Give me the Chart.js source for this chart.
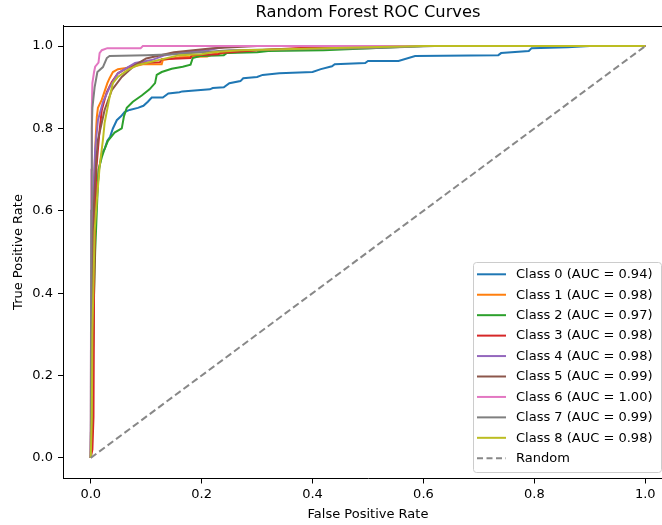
<!DOCTYPE html>
<html>
<head>
<meta charset="utf-8">
<script src="https://cdn.jsdelivr.net/npm/chart.js@4/dist/chart.umd.min.js"></script>
<style>
  html, body { margin: 0; padding: 0; background: #fff; overflow: hidden; }
  #wrap { width: 662px; height: 525px; overflow: hidden; position: relative; }
  canvas { display: block; }
</style>
</head>
<body>
<div id="wrap"><canvas id="c" width="673" height="525"></canvas></div>
<script>
// ---- Data (FPR, TPR) pairs ----
const class0 = [[0,0],[0.002,0.3],[0.005,0.5],[0.01,0.62],[0.015,0.7],[0.02,0.74],[0.025,0.75],[0.03,0.77],[0.035,0.78],[0.04,0.8],[0.047,0.82],[0.055,0.83],[0.061,0.84],[0.07,0.845],[0.085,0.85],[0.095,0.855],[0.103,0.865],[0.11,0.875],[0.13,0.875],[0.14,0.885],[0.16,0.888],[0.165,0.89],[0.215,0.895],[0.22,0.898],[0.24,0.9],[0.25,0.91],[0.27,0.915],[0.275,0.922],[0.3,0.925],[0.31,0.93],[0.34,0.934],[0.4,0.937],[0.415,0.944],[0.435,0.951],[0.44,0.956],[0.495,0.959],[0.5,0.964],[0.555,0.964],[0.585,0.976],[0.735,0.978],[0.74,0.983],[0.79,0.988],[0.795,0.995],[0.86,0.997],[0.9,1.0],[1,1]];
const class1 = [[0,0],[0.002,0.3],[0.004,0.6],[0.007,0.7],[0.009,0.78],[0.011,0.828],[0.013,0.85],[0.02,0.87],[0.025,0.89],[0.03,0.91],[0.034,0.922],[0.04,0.937],[0.049,0.944],[0.07,0.948],[0.094,0.956],[0.128,0.956],[0.13,0.966],[0.16,0.973],[0.21,0.975],[0.22,0.98],[0.3,0.99],[0.5,1],[1,1]];
const class2 = [[0,0],[0.002,0.05],[0.004,0.25],[0.006,0.4],[0.008,0.5],[0.011,0.6],[0.014,0.7],[0.02,0.73],[0.025,0.75],[0.031,0.77],[0.043,0.79],[0.056,0.8],[0.06,0.83],[0.065,0.85],[0.076,0.865],[0.092,0.88],[0.106,0.895],[0.116,0.91],[0.119,0.93],[0.128,0.937],[0.146,0.945],[0.166,0.95],[0.18,0.955],[0.184,0.971],[0.197,0.976],[0.24,0.978],[0.245,0.983],[0.3,0.985],[0.32,0.988],[0.42,0.99],[0.6,1],[1,1]];
const class3 = [[0,0],[0.003,0.02],[0.005,0.1],[0.006,0.4],[0.008,0.6],[0.01,0.7],[0.013,0.75],[0.016,0.796],[0.02,0.845],[0.025,0.87],[0.029,0.888],[0.038,0.913],[0.049,0.934],[0.07,0.95],[0.094,0.959],[0.125,0.961],[0.128,0.968],[0.18,0.971],[0.182,0.978],[0.23,0.98],[0.233,0.983],[0.3,0.99],[0.45,1],[1,1]];
const class4 = [[0,0],[0.001,0.2],[0.003,0.5],[0.005,0.65],[0.008,0.75],[0.013,0.82],[0.022,0.864],[0.034,0.9],[0.049,0.934],[0.08,0.959],[0.11,0.966],[0.134,0.978],[0.157,0.983],[0.21,0.99],[0.25,1],[1,1]];
const class5 = [[0,0],[0.002,0.3],[0.004,0.55],[0.007,0.65],[0.01,0.72],[0.013,0.772],[0.025,0.845],[0.038,0.893],[0.056,0.925],[0.08,0.954],[0.1,0.97],[0.15,0.985],[0.22,0.995],[0.3,1],[1,1]];
const class6 = [[0,0],[0.001,0.7],[0.002,0.85],[0.003,0.91],[0.006,0.937],[0.008,0.95],[0.014,0.96],[0.016,0.983],[0.02,0.99],[0.03,0.995],[0.09,0.995],[0.094,1.0],[1,1]];
const class7 = [[0,0],[0.001,0.6],[0.002,0.8],[0.003,0.85],[0.007,0.9],[0.012,0.937],[0.022,0.949],[0.029,0.971],[0.034,0.976],[0.1,0.978],[0.15,0.98],[0.2,0.985],[0.25,0.99],[0.5,0.995],[0.62,1],[1,1]];
const class8 = [[0,0],[0.002,0.1],[0.003,0.3],[0.007,0.55],[0.011,0.626],[0.016,0.706],[0.022,0.772],[0.025,0.813],[0.034,0.876],[0.04,0.91],[0.049,0.925],[0.067,0.942],[0.085,0.954],[0.16,0.978],[0.2,0.98],[0.22,0.985],[0.27,0.99],[0.5,0.997],[0.6,1],[1,1]];
const randomLine = [[0,0],[1,1]];

const classNames = ['Class 0','Class 1','Class 2','Class 3','Class 4','Class 5','Class 6','Class 7','Class 8'];
const aucValues = [0.94, 0.98, 0.97, 0.98, 0.98, 0.99, 1.00, 0.99, 0.98];
const xTickValues = [0, 0.2, 0.4, 0.6, 0.8, 1.0];
const yTickValues = [0, 0.2, 0.4, 0.6, 0.8, 1.0];

// ---- Styles ----
const palette = ['#1f77b4','#ff7f0e','#2ca02c','#d62728','#9467bd','#8c564b','#e377c2','#7f7f7f','#bcbd22'];
const FONT = 'DejaVu Sans';
const curves = [class0, class1, class2, class3, class4, class5, class6, class7, class8];

const datasets = curves.map((pts, i) => ({
  label: `${classNames[i]} (AUC = ${aucValues[i].toFixed(2)})`,
  data: pts.map(p => ({x: p[0], y: p[1]})),
  borderColor: palette[i],
  backgroundColor: palette[i],
  borderWidth: 2,
  pointRadius: 0,
  tension: 0,
  fill: false,
  order: curves.length + 1 - i
}));
datasets.push({
  label: 'Random',
  data: randomLine.map(p => ({x: p[0], y: p[1]})),
  borderColor: '#888888',
  backgroundColor: '#888888',
  borderWidth: 2,
  borderDash: [7, 3.5],
  pointRadius: 0,
  fill: false,
  order: 0
});

const framePlugin = {
  id: 'frameAndLegend',
  afterDraw(chart) {
    const {ctx, chartArea: a} = chart;
    ctx.save();
    // top and right spines
    ctx.strokeStyle = '#000';
    ctx.lineWidth = 1;
    ctx.beginPath();
    ctx.moveTo(a.left, Math.round(a.top) + 0.5);
    ctx.lineTo(a.right, Math.round(a.top) + 0.5);
    ctx.lineTo(a.right, a.bottom);
    ctx.stroke();

    // legend
    const bx = 473.5, by = 262.5, bw = 188, bh = 210;
    ctx.beginPath();
    ctx.roundRect(bx, by, bw, bh, 3);
    ctx.fillStyle = 'rgba(255,255,255,0.8)';
    ctx.fill();
    ctx.strokeStyle = '#cccccc';
    ctx.lineWidth = 1;
    ctx.stroke();

    ctx.font = `13px "${FONT}"`;
    ctx.textBaseline = 'middle';
    ctx.textAlign = 'left';
    chart.data.datasets.forEach((ds, i) => {
      const y = 274.3 + i * 20.44;
      ctx.strokeStyle = ds.borderColor;
      ctx.lineWidth = 2;
      ctx.setLineDash(ds.borderDash ? [6, 3.5] : []);
      ctx.beginPath();
      ctx.moveTo(477, y);
      ctx.lineTo(506, y);
      ctx.stroke();
      ctx.setLineDash([]);
      ctx.fillStyle = '#000';
      ctx.fillText(ds.label, 516, y + 0.5);
    });
    ctx.restore();
  }
};

new Chart(document.getElementById('c'), {
  type: 'line',
  data: { datasets },
  plugins: [framePlugin],
  options: {
    responsive: false,
    animation: false,
    devicePixelRatio: 1,
    layout: { padding: 0 },
    plugins: {
      legend: { display: false },
      tooltip: { enabled: false },
      title: {
        display: true,
        fullSize: false,
        text: 'Random Forest ROC Curves',
        color: '#000',
        font: { family: FONT, size: 16.3, weight: 'normal', lineHeight: 1.2 },
        padding: { top: 3, bottom: 2.94 }
      }
    },
    scales: {
      x: {
        type: 'linear',
        min: -0.05,
        max: 1.05,
        afterBuildTicks: s => { s.ticks = xTickValues.map(v => ({value: v})); },
        afterFit: s => { s.height = 46.5; },
        grid: { drawOnChartArea: false, drawTicks: true, tickLength: 5, tickColor: '#000', tickWidth: 1 },
        border: { display: true, color: '#000', width: 1 },
        ticks: {
          color: '#000', padding: 3.7, maxRotation: 0, autoSkip: false,
          font: { family: FONT, size: 13 },
          callback: v => Number(v).toFixed(1)
        },
        title: {
          display: true, text: 'False Positive Rate', color: '#000',
          font: { family: FONT, size: 13 },
          padding: { top: 0, bottom: 2.8 }
        }
      },
      y: {
        type: 'linear',
        min: -0.05,
        max: 1.05,
        afterBuildTicks: s => { s.ticks = yTickValues.map(v => ({value: v})); },
        afterFit: s => { s.width = 63; },
        grid: { drawOnChartArea: false, drawTicks: true, tickLength: 5, tickColor: '#000', tickWidth: 1 },
        border: { display: true, color: '#000', width: 1 },
        ticks: {
          color: '#000', padding: 5, autoSkip: false,
          font: { family: FONT, size: 13 },
          callback: v => Number(v).toFixed(1)
        },
        title: {
          display: true, text: 'True Positive Rate', color: '#000',
          font: { family: FONT, size: 13 },
          padding: { top: 10.8, bottom: 0 }
        }
      }
    }
  }
});
</script>
</body>
</html>
